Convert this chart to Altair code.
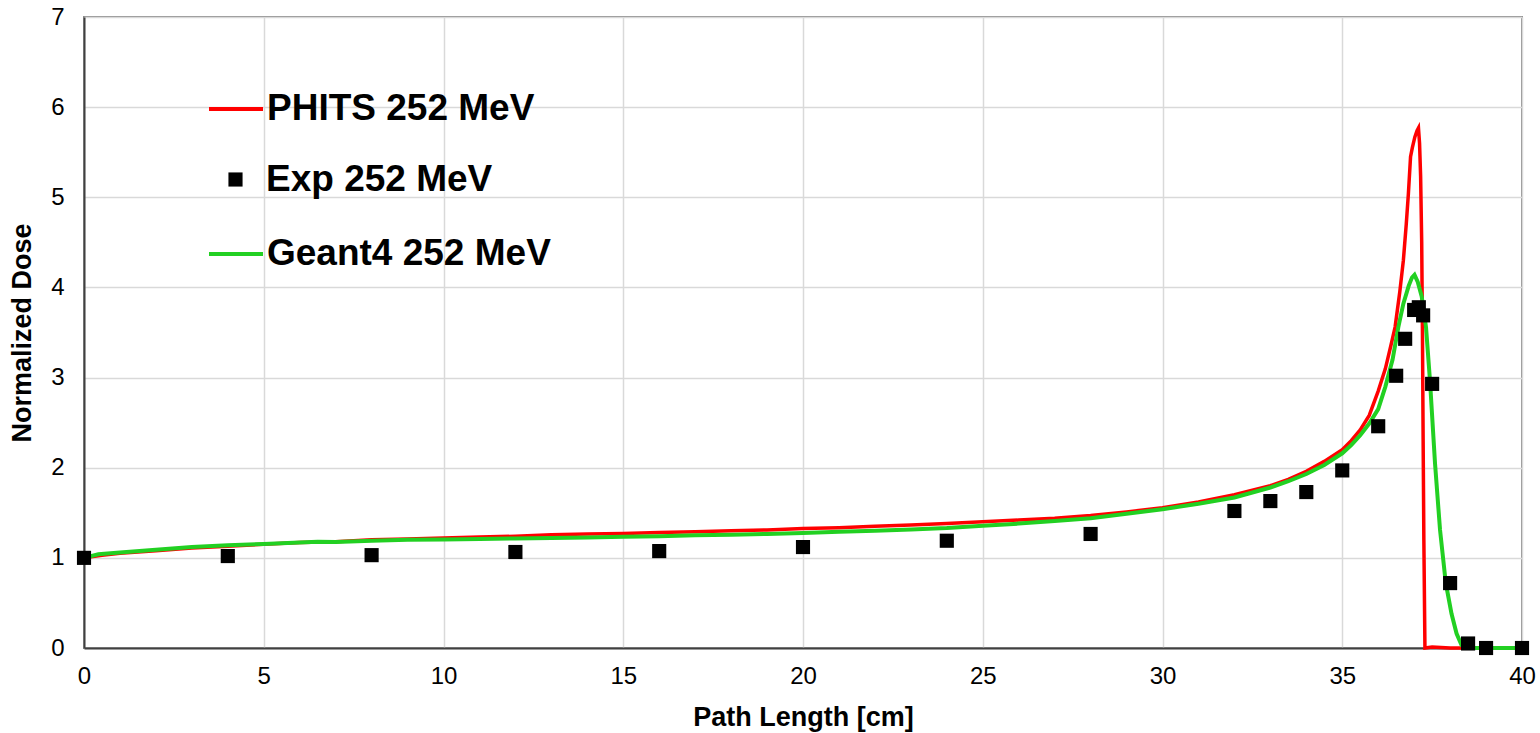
import altair as alt
import pandas as pd

# Depth-dose curves for a 252 MeV proton beam (dose normalised to the entrance value)
dist_phits = [0, 0.5, 1, 2, 3, 4, 5, 6, 7, 8, 9, 10, 11, 12, 13, 14, 15, 16, 17, 18,
              19, 20, 21, 22, 23, 24, 25, 26, 27, 28, 29, 30, 31, 32, 33, 33.5, 34,
              34.5, 35, 35.25, 35.5, 35.75, 36, 36.2, 36.35, 36.47, 36.6, 36.7, 36.78,
              36.84, 36.9, 36.95, 37.02, 37.08, 37.12, 37.15, 37.18, 37.21, 37.23,
              37.25, 37.27, 37.29, 37.3, 37.5, 38, 39, 40]
dose_phits = [1.0, 1.03, 1.05, 1.08, 1.11, 1.13, 1.15, 1.17, 1.18, 1.2, 1.21, 1.22, 1.23,
              1.24, 1.255, 1.265, 1.27, 1.28, 1.29, 1.3, 1.31, 1.325, 1.335, 1.35, 1.365,
              1.38, 1.4, 1.42, 1.44, 1.47, 1.51, 1.555, 1.62, 1.7, 1.8, 1.87, 1.96, 2.07,
              2.2, 2.3, 2.42, 2.58, 2.85, 3.1, 3.35, 3.56, 3.95, 4.3, 4.7, 5.04, 5.45,
              5.55, 5.67, 5.74, 5.77, 5.6, 5.23, 4.5, 3.55, 2.3, 1.2, 0.4, 0.0, 0.01,
              0.0, 0.0, 0.0]

dist_geant4 = [0, 0.4, 1, 2, 3, 4, 5, 6, 6.5, 7, 8, 9, 10, 11, 12, 13, 14, 15, 16, 17,
               18, 19, 20, 21, 22, 23, 24, 25, 26, 27, 28, 29, 30, 31, 32, 33, 33.5, 34,
               34.5, 35, 35.25, 35.5, 35.75, 36, 36.2, 36.4, 36.56, 36.7, 36.85, 36.94,
               37.01, 37.1, 37.21, 37.33, 37.44, 37.58, 37.72, 37.88, 38.04, 38.18,
               38.32, 38.5, 39, 40]
dose_geant4 = [1.0, 1.04, 1.06, 1.09, 1.12, 1.14, 1.155, 1.17, 1.18, 1.175, 1.19, 1.2,
               1.205, 1.21, 1.215, 1.22, 1.225, 1.235, 1.24, 1.25, 1.255, 1.265, 1.275,
               1.29, 1.3, 1.315, 1.33, 1.355, 1.38, 1.41, 1.44, 1.49, 1.54, 1.6, 1.67,
               1.78, 1.85, 1.93, 2.03, 2.16, 2.25, 2.36, 2.49, 2.65, 2.9, 3.2, 3.56,
               3.82, 4.02, 4.11, 4.14, 4.06, 3.9, 3.56, 2.97, 2.05, 1.31, 0.72, 0.38,
               0.16, 0.03, 0.0, 0.0, 0.0]

dist_exp = [0, 4, 8, 12, 16, 20, 24, 28, 32, 33, 34, 35, 36, 36.5, 36.75, 37.0, 37.13,
            37.25, 37.5, 38.0, 38.5, 39.0, 40.0]
dose_exp = [1.0, 1.02, 1.03, 1.065, 1.075, 1.12, 1.19, 1.265, 1.52, 1.63, 1.73, 1.97,
            2.46, 3.02, 3.43, 3.75, 3.78, 3.69, 2.93, 0.72, 0.05, 0.0, 0.0]

phits = pd.DataFrame({"x": dist_phits, "y": dose_phits, "series": "PHITS 252 MeV"})
geant4 = pd.DataFrame({"x": dist_geant4, "y": dose_geant4, "series": "Geant4 252 MeV"})
exp = pd.DataFrame({"x": dist_exp, "y": dose_exp, "series": "Exp 252 MeV"})

FONT = "Liberation Sans"

x_enc = alt.X(
    "x:Q",
    scale=alt.Scale(domain=[0, 40], nice=False),
    axis=alt.Axis(title="Path Length [cm]", values=list(range(0, 41, 5)), format="d",
                  labelFlush=False),
)
y_enc = alt.Y(
    "y:Q",
    scale=alt.Scale(domain=[0, 7], nice=False),
    axis=alt.Axis(title="Normalized Dose", values=list(range(0, 8)), format="d"),
)


def legend(x, y, shape, size, offset):
    return alt.Legend(
        title=None, orient="none", legendX=x, legendY=y, padding=0,
        symbolType=shape, symbolSize=size, symbolStrokeWidth=4,
        labelFont=FONT, labelFontSize=37, labelFontWeight="bold",
        labelColor="black", labelLimit=800, labelOffset=offset,
    )


red_line = alt.Chart(phits).mark_line(strokeWidth=3.5).encode(
    x=x_enc, y=y_enc,
    color=alt.Color("series:N", scale=alt.Scale(range=["#ff0000"]),
                    legend=legend(123, 63, "stroke", 2916, 2)),
)
green_line = alt.Chart(geant4).mark_line(strokeWidth=4).encode(
    x=x_enc, y=y_enc,
    color=alt.Color("series:N", scale=alt.Scale(range=["#22d022"]),
                    legend=legend(123, 208, "stroke", 2916, 2)),
)
points = alt.Chart(exp).mark_square(size=200, opacity=1).encode(
    x=x_enc, y=y_enc,
    color=alt.Color("series:N", scale=alt.Scale(range=["#000000"]),
                    legend=legend(133, 144, "square", 200, 12)),
)

chart = (
    alt.layer(red_line, green_line, points)
    .resolve_scale(color="independent")
    .properties(
        width=1438, height=631,
        padding={"left": 84, "top": 17, "right": 18, "bottom": 85},
        autosize=alt.AutoSizeParams(type="none"),
        background="white",
    )
    .configure_view(stroke="#8c8c8c", strokeWidth=2)
    .configure_axis(
        labelFont=FONT, labelFontSize=24, labelColor="black",
        titleFont=FONT, titleFontSize=27, titleFontWeight="bold", titleColor="black",
        grid=True, gridColor="#d9d9d9", gridWidth=1.5,
        ticks=False, domainColor="#404040", domainWidth=2,
    )
    .configure_axisX(labelPadding=16, titlePadding=16)
    .configure_axisY(labelPadding=20, titlePadding=14)
)

chart.save("out.html", embed_options={"renderer": "svg", "actions": False})
